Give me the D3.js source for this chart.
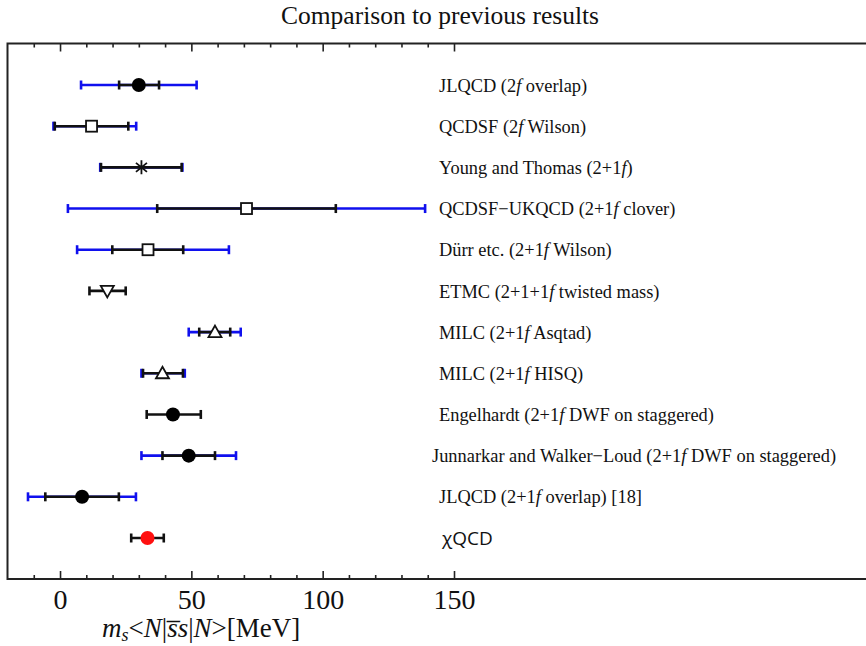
<!DOCTYPE html>
<html>
<head>
<meta charset="utf-8">
<script src="https://cdn.jsdelivr.net/npm/d3@7"></script>
<style>
  html, body { margin: 0; padding: 0; background: #fff; }
  svg { display: block; }
</style>
</head>
<body>
<script>
// ---------- data ----------
const labels = [
  "JLQCD (2f overlap)",
  "QCDSF (2f Wilson)",
  "Young and Thomas (2+1f)",
  "QCDSF\u2212UKQCD (2+1f clover)",
  "D\u00fcrr etc. (2+1f Wilson)",
  "ETMC (2+1+1f twisted mass)",
  "MILC (2+1f Asqtad)",
  "MILC (2+1f HISQ)",
  "Engelhardt (2+1f DWF on staggered)",
  "Junnarkar and Walker\u2212Loud (2+1f DWF on staggered)",
  "JLQCD (2+1f overlap) [18]",
  "\u03c7QCD"
];
const values    = [30, 12, 31, 71, 33.5, 18, 59, 39, 43, 49, 8.4, 33.3];
const statMinus = [7.5, 14, 15.4, 34, 13.6, 6.8, 6, 7.4, 10, 10, 14, 6.2];
const statPlus  = [7.7, 14, 15.3, 34, 13.4, 7, 5.8, 7.8, 10.6, 10, 14, 6.2];
const totMinus  = [22, 14.5, 15.7, 68, 27, null, 10, 8, null, 18, 20.6, null];
const totPlus   = [22, 17, 15.6, 68, 30.8, null, 9.8, 8.5, null, 18, 20.5, null];
const markers   = ["disc", "square", "star", "square", "square", "triDown",
                   "triUp", "triUp", "disc", "disc", "disc", "redDisc"];
const majorTicks = [0, 50, 100, 150];
const minorTicks = [-10, 10, 20, 30, 40, 60, 70, 80, 90, 110, 120, 130, 140];
const title = "Comparison to previous results";

// ---------- layout ----------
const W = 866, H = 646;
const frameTop = 43.5, frameBottom = 579, frameLeft = 7.5, frameRight = 875;
const serif = "'Liberation Serif', 'Times New Roman', serif";

const svg = d3.select("body").append("svg")
  .attr("width", W).attr("height", H);

const x = d3.scaleLinear().domain([-20, 150]).range([frameLeft, 454]);
const y = d3.scalePoint().domain(d3.range(labels.length)).range([85, 538]);

const rows = labels.map((l, i) => ({
  i, label: l, v: values[i],
  sLo: values[i] - statMinus[i], sHi: values[i] + statPlus[i],
  tLo: totMinus[i] == null ? null : values[i] - totMinus[i],
  tHi: totPlus[i] == null ? null : values[i] + totPlus[i],
  m: markers[i]
}));

// title
svg.append("text")
  .attr("x", 440).attr("y", 24)
  .attr("text-anchor", "middle")
  .attr("font-family", serif)
  .attr("font-size", 25.5)
  .attr("fill", "#111")
  .text(title);

// ticks (inward) on top and bottom
function tickAxis(gen, yPos, vals, size) {
  const g = svg.append("g").attr("transform", `translate(0,${yPos})`)
    .call(gen(x).tickValues(vals).tickSize(size).tickFormat(""));
  g.select(".domain").remove();
  g.selectAll("line").attr("stroke", "#222").attr("stroke-width", 1.6);
}
tickAxis(d3.axisTop, frameBottom, majorTicks, 8);
tickAxis(d3.axisTop, frameBottom, minorTicks, 4);
tickAxis(d3.axisBottom, frameTop, majorTicks, 8);
tickAxis(d3.axisBottom, frameTop, minorTicks, 4);

// frame
svg.append("rect")
  .attr("x", frameLeft).attr("y", frameTop)
  .attr("width", frameRight - frameLeft).attr("height", frameBottom - frameTop)
  .attr("fill", "none").attr("stroke", "#222").attr("stroke-width", 2);

// tick labels
const lab = svg.append("g").attr("transform", `translate(0,${frameBottom})`)
  .call(d3.axisBottom(x).tickValues(majorTicks).tickSize(0).tickPadding(10).tickFormat(d3.format("d")));
lab.select(".domain").remove();
lab.selectAll("text")
  .attr("font-family", serif)
  .attr("font-size", 28).attr("fill", "#111");

// axis title
const at = svg.append("text")
  .attr("x", 102).attr("y", 637)
  .attr("font-family", serif)
  .attr("font-size", 27).attr("fill", "#111");
at.append("tspan").attr("font-style", "italic").text("m");
at.append("tspan").attr("font-style", "italic").attr("font-size", 18).attr("dy", 4).text("s");
at.append("tspan").attr("dy", -4).text("<");
at.append("tspan").attr("font-style", "italic").text("N");
at.append("tspan").text("|");
at.append("tspan").attr("font-style", "italic").text("s\u0305s");
at.append("tspan").text("|");
at.append("tspan").attr("font-style", "italic").text("N");
at.append("tspan").text(">[MeV]");

// error bars
const cap = 4.5;
const plot = svg.append("g");
function bar(r, lo, hi, color) {
  const yy = y(r.i);
  plot.append("line").attr("x1", x(lo)).attr("x2", x(hi)).attr("y1", yy).attr("y2", yy)
    .attr("stroke", color).attr("stroke-width", 2.6);
  [lo, hi].forEach(e => plot.append("line")
    .attr("x1", x(e)).attr("x2", x(e)).attr("y1", yy - cap).attr("y2", yy + cap)
    .attr("stroke", color).attr("stroke-width", 2.6));
}
rows.forEach(r => {
  if (r.tLo != null) bar(r, r.tLo, r.tHi, "#1010ee");
  bar(r, r.sLo, r.sHi, "#111");
});

// markers
rows.forEach(r => {
  const cx = x(r.v), cy = y(r.i);
  const g = plot.append("g").attr("transform", `translate(${cx},${cy})`);
  if (r.m === "disc" || r.m === "redDisc") {
    g.append("circle").attr("r", 7).attr("fill", r.m === "redDisc" ? "#ff1010" : "#000");
  } else if (r.m === "square") {
    g.append("rect").attr("x", -5.5).attr("y", -5.5).attr("width", 11).attr("height", 11)
      .attr("fill", "#fff").attr("stroke", "#111").attr("stroke-width", 1.8);
  } else if (r.m === "triUp") {
    g.append("path").attr("d", "M0,-6.5L6.5,5L-6.5,5Z")
      .attr("fill", "#fff").attr("stroke", "#111").attr("stroke-width", 1.8);
  } else if (r.m === "triDown") {
    g.append("path").attr("d", "M0,6.5L6.5,-5L-6.5,-5Z")
      .attr("fill", "#fff").attr("stroke", "#111").attr("stroke-width", 1.8);
  } else if (r.m === "star") {
    g.append("path").attr("d", "M0,-7L0,7M-5.5,-4.5L5.5,4.5M-5.5,4.5L5.5,-4.5")
      .attr("fill", "none").attr("stroke", "#111").attr("stroke-width", 1.8);
  }
});

// labels
rows.forEach(r => {
  const isChi = r.label.startsWith("\u03c7");
  const long = r.label.length > 40;
  const t = svg.append("text")
    .attr("x", isChi ? 442 : (long ? 432 : 439)).attr("y", y(r.i))
    .attr("dy", "0.36em")
    .attr("font-family", isChi ? "'Open Sans', 'Noto Sans', sans-serif" : serif)
    .attr("font-size", isChi ? 19 : 18.4)
    .attr("fill", "#111");
  // italicize the 'f' that follows a digit
  const parts = r.label.split(/(?<=\d)f/);
  parts.forEach((p, k) => {
    t.append("tspan").text(p);
    if (k < parts.length - 1) t.append("tspan").attr("font-style", "italic").text("f");
  });
});
</script>
</body>
</html>
